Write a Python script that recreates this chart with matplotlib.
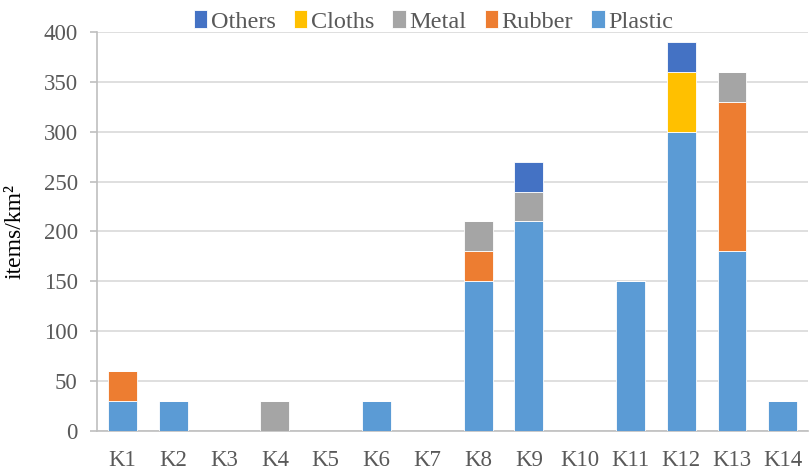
import numpy as np
import matplotlib.pyplot as plt
from matplotlib.font_manager import FontProperties

plt.rcParams['font.family'] = ['Liberation Serif', 'DejaVu Serif']

sites = ['K1', 'K2', 'K3', 'K4', 'K5', 'K6', 'K7', 'K8', 'K9', 'K10', 'K11', 'K12', 'K13', 'K14']
plastic = [30, 30, 0, 0, 0, 30, 0, 150, 210, 0, 150, 300, 180, 30]
rubber = [30, 0, 0, 0, 0, 0, 0, 30, 0, 0, 0, 0, 150, 0]
metal = [0, 0, 0, 30, 0, 0, 0, 30, 30, 0, 0, 0, 30, 0]
cloths = [0, 0, 0, 0, 0, 0, 0, 0, 0, 0, 0, 60, 0, 0]
others = [0, 0, 0, 0, 0, 0, 0, 0, 30, 0, 0, 30, 0, 0]

series = [('Plastic', plastic, '#5B9BD5'),
          ('Rubber', rubber, '#ED7D31'),
          ('Metal', metal, '#A5A5A5'),
          ('Cloths', cloths, '#FFC000'),
          ('Others', others, '#4472C4')]

fig = plt.figure(figsize=(8.09, 4.7), dpi=100)
ax = fig.add_axes([0.12, 0.083, 0.879, 0.849])

x = np.arange(len(sites))
bottom = np.zeros(len(sites))
handles = []
for name, vals, col in series:
    b = ax.bar(x, vals, 0.57, bottom=bottom, color=col, edgecolor='white', linewidth=0.6, label=name, zorder=3)
    handles.append(b)
    bottom += np.array(vals)

ax.set_xlim(-0.5, len(sites) - 0.5)
ax.set_ylim(0, 400)
ax.set_yticks(np.arange(0, 401, 50))
ax.set_xticks(x)
ax.set_xticklabels(sites)
ax.grid(axis='y', color='#D9D9D9', linewidth=1.2, zorder=0)
for s in ['top', 'right']:
    ax.spines[s].set_visible(False)
for s in ['left', 'bottom']:
    ax.spines[s].set_color('#BFBFBF')
    ax.spines[s].set_linewidth(1.2)
ax.tick_params(axis='y', colors='#BFBFBF', labelcolor='#595959', labelsize=16.5, length=5, width=1.2, pad=9)
ax.tick_params(axis='x', length=0, labelcolor='#595959', labelsize=16.5, pad=14)
ax.set_ylabel('items/km²', fontsize=17, color='black')
ax.yaxis.set_label_coords(-0.1, 0.5)

prop = FontProperties(family=['Liberation Serif', 'DejaVu Serif'], size=17.5)
labels = [h.get_label() for h in handles][::-1]
fig.legend(handles[::-1], labels, loc='upper center', bbox_to_anchor=(0.536, 1.025), ncol=5,
           frameon=False, prop=prop, handlelength=0.55, handleheight=0.75, handletextpad=0.15,
           columnspacing=0.75, labelcolor='#595959')

plt.savefig('out.png', dpi=100)
plt.close()
